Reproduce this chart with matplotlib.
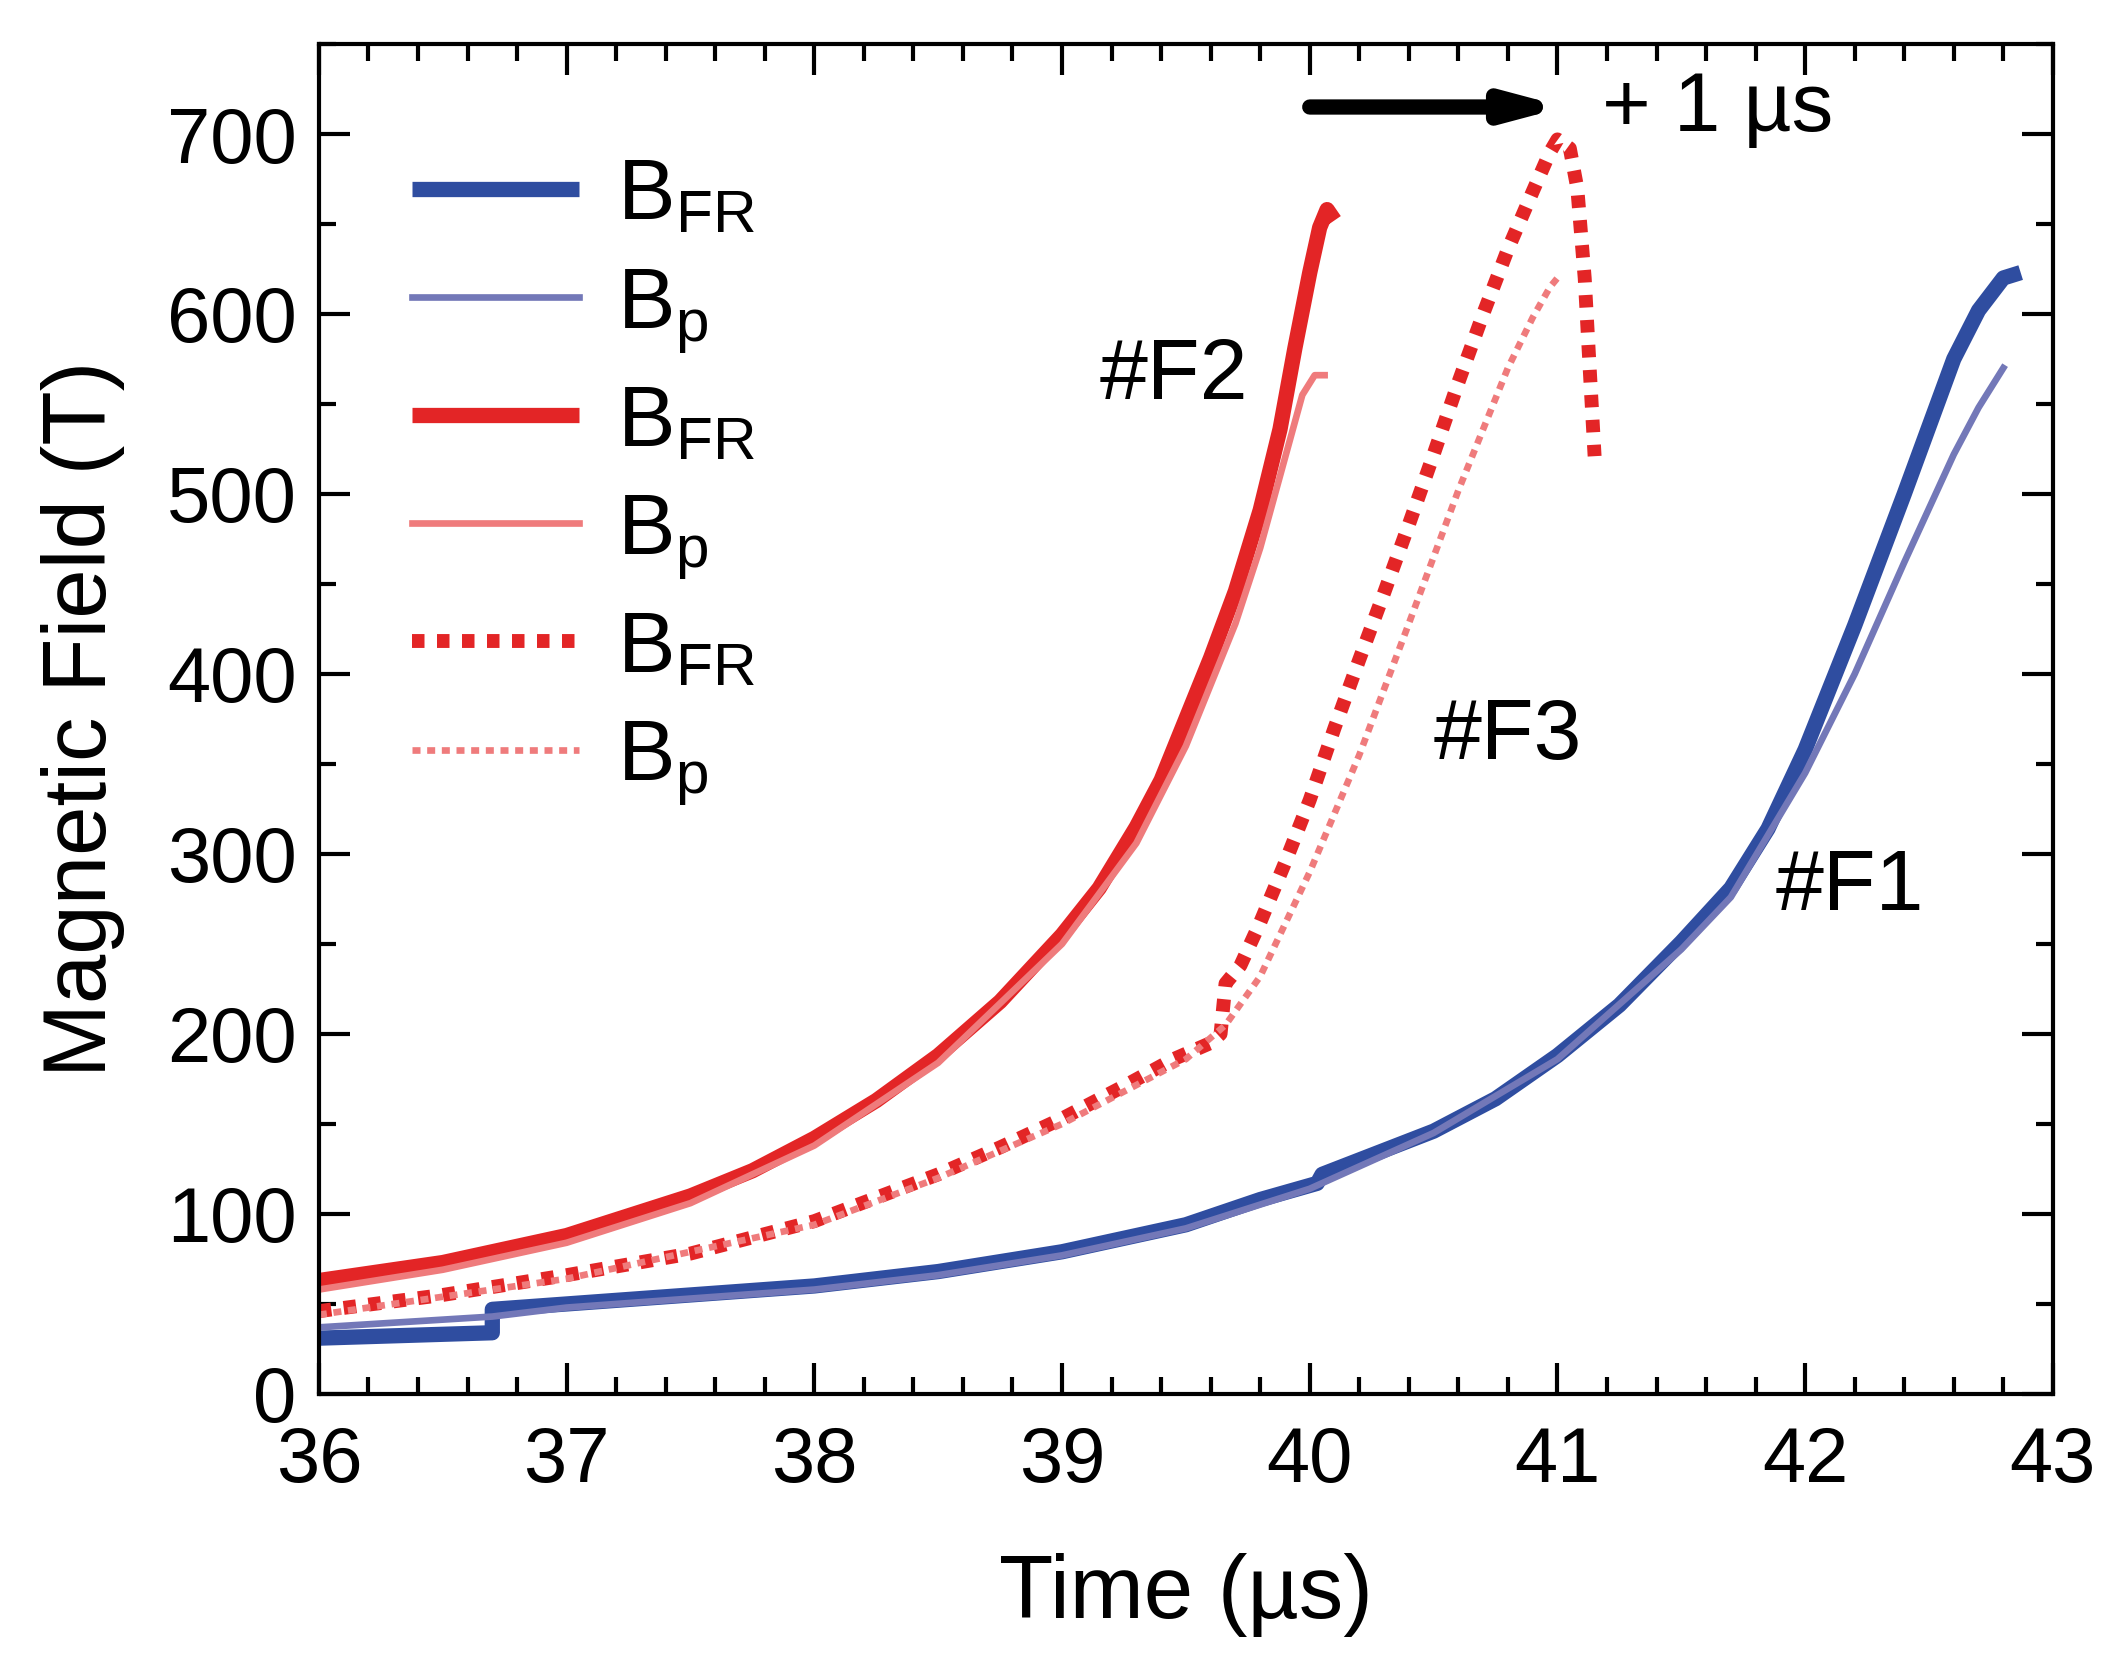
import matplotlib
matplotlib.use("Agg")
import matplotlib.pyplot as plt
from matplotlib.ticker import MultipleLocator

plt.rcParams['font.family'] = ['Liberation Sans', 'DejaVu Sans']
plt.rcParams['mathtext.default'] = 'regular'

# shot #F1 (blue)
f1_t_fr = [36.0, 36.7, 36.7, 37.0, 37.5, 38.0, 38.5, 39.0, 39.5, 39.8, 40.03, 40.05, 40.5, 40.75, 41.0, 41.25, 41.5, 41.7,
           41.85, 42.0, 42.2, 42.4, 42.6, 42.7, 42.8, 42.87]
f1_b_fr = [31, 34, 47, 50, 55, 60, 68, 79, 94, 108, 117, 122, 146, 164, 188, 216, 251, 281,
           314, 358, 427, 500, 575, 602, 620, 623]
f1_t_p = [36.0, 36.7, 37.0, 37.5, 38.0, 38.5, 39.0, 39.5, 40.0, 40.5, 41.0, 41.5, 41.7, 42.0, 42.2, 42.4, 42.6, 42.7, 42.8]
f1_b_p = [37, 43, 48, 53, 58, 66, 77, 92, 114, 145, 186, 247, 276, 345, 400, 462, 522, 548, 570]

# shot #F2 (red, solid)
f2_t_fr = [36.0, 36.5, 37.0, 37.5, 37.75, 38.0, 38.25, 38.5, 38.75, 39.0, 39.15, 39.3, 39.4, 39.5, 39.6, 39.7,
           39.8, 39.88, 39.94, 40.0, 40.04, 40.07, 40.1]
f2_b_fr = [63, 73, 88, 110, 124, 142, 163, 188, 218, 255, 281, 315, 341, 375, 409, 446,
           491, 536, 581, 623, 648, 658, 652]
f2_t_p = [36.0, 36.5, 37.0, 37.5, 38.0, 38.5, 39.0, 39.3, 39.5, 39.7, 39.8, 39.9, 39.97, 40.02, 40.06]
f2_b_p = [58, 69, 84, 106, 138, 184, 250, 306, 360, 428, 470, 520, 555, 566, 566]

# shot #F3 (red, dotted)
f3_t_fr = [36.0, 36.5, 37.0, 37.5, 38.0, 38.5, 38.75, 39.0, 39.25, 39.45, 39.6, 39.64, 39.66, 39.72, 39.8, 39.9,
           40.0, 40.1, 40.2, 40.3, 40.4, 40.5, 40.6, 40.7, 40.8, 40.9, 40.97, 41.0, 41.05, 41.08, 41.11, 41.13, 41.15]
f3_b_fr = [46, 55, 66, 78, 96, 122, 137, 153, 171, 186, 195, 200, 228, 238, 262, 295,
           330, 370, 408, 445, 483, 522, 562, 600, 636, 668, 690, 697, 692, 670, 620, 570, 521]
f3_t_p = [36.0, 37.0, 38.0, 38.5, 39.0, 39.5, 39.66, 39.8, 40.0, 40.2, 40.4, 40.6, 40.8, 40.9, 40.97, 41.0]
f3_b_p = [44, 64, 94, 120, 150, 186, 205, 232, 290, 355, 428, 502, 570, 598, 615, 620]

blue_dark = '#2f4da0'
blue_light = '#7378b8'
red_dark = '#e32526'
red_light = '#ef7b7c'

fig = plt.figure(figsize=(10.56, 8.335), dpi=200)
ax = fig.add_axes([0.151, 0.1638, 0.821, 0.8098])

ax.plot(f1_t_fr, f1_b_fr, color=blue_dark, lw=5.5, solid_capstyle='butt', label='B$_{FR}$')
ax.plot(f1_t_p, f1_b_p, color=blue_light, lw=2.4, label='B$_p$')
ax.plot(f2_t_fr, f2_b_fr, color=red_dark, lw=5.5, solid_capstyle='butt', label='B$_{FR}$')
ax.plot(f2_t_p, f2_b_p, color=red_light, lw=2.4, label='B$_p$')
ax.plot(f3_t_fr, f3_b_fr, color=red_dark, lw=5.0, ls=(0, (0.9, 0.9)), dash_capstyle='butt', label='B$_{FR}$')
ax.plot(f3_t_p, f3_b_p, color=red_light, lw=2.4, ls=(0, (1.2, 1.0)), dash_capstyle='butt', label='B$_p$')

ax.set_xlim(36, 43)
ax.set_ylim(0, 750)
ax.xaxis.set_major_locator(MultipleLocator(1))
ax.xaxis.set_minor_locator(MultipleLocator(0.2))
ax.yaxis.set_major_locator(MultipleLocator(100))
ax.yaxis.set_minor_locator(MultipleLocator(50))
ax.tick_params(which='both', direction='in', top=True, right=True, width=1.5)
ax.tick_params(which='major', length=11, labelsize=28)
ax.tick_params(which='minor', length=6)
ax.tick_params(axis='x', which='major', pad=11)
ax.tick_params(axis='y', which='major', pad=8)
for s in ax.spines.values():
    s.set_linewidth(1.5)

ax.set_xlabel('Time (\u00b5s)', fontsize=32, labelpad=20)
ax.set_ylabel('Magnetic Field (T)', fontsize=32, labelpad=15)

ax.annotate('', xy=(41.03, 715), xytext=(40.0, 715),
            arrowprops=dict(arrowstyle='-|>,head_length=0.75,head_width=0.2', color='black',
                            lw=5.5, mutation_scale=20, shrinkA=0, shrinkB=0))
ax.text(41.18, 714, '+ 1 \u00b5s', fontsize=30, va='center', ha='left')
ax.text(39.15, 565, '#F2', fontsize=31, va='center', ha='left')
ax.text(40.5, 365, '#F3', fontsize=31, va='center', ha='left')
ax.text(41.88, 281, '#F1', fontsize=31, va='center', ha='left')

ax.legend(loc='upper left', bbox_to_anchor=(0.034, 0.942), frameon=False, fontsize=31,
          handlelength=1.93, handletextpad=0.45, labelspacing=0.33, borderaxespad=0)

fig.savefig('out.png', dpi=200)
